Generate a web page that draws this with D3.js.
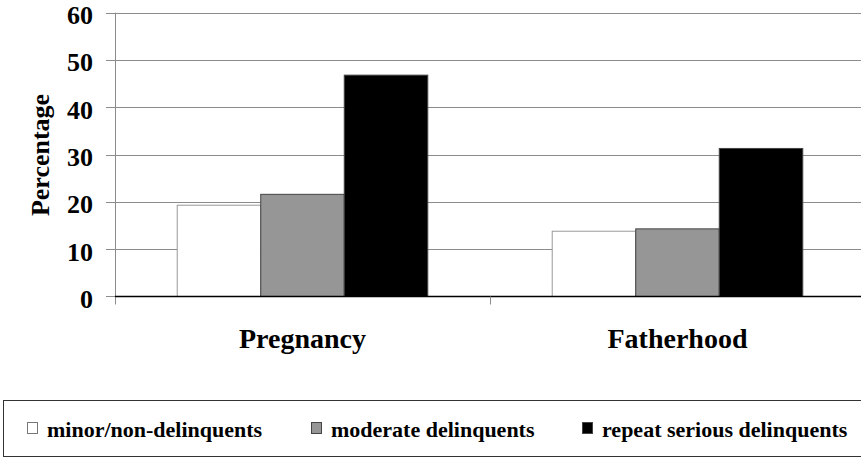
<!DOCTYPE html>
<html>
<head>
<meta charset="utf-8">
<script src="https://cdn.jsdelivr.net/npm/d3@7"></script>
<style>
  body { margin: 0; background: #fff; }
  svg { display: block; }
  text { font-family: "Liberation Serif", "Times New Roman", serif; font-weight: bold; fill: #000; }
</style>
</head>
<body>
<div id="graph"></div>
<script>
var categories = ["Pregnancy", "Fatherhood"];
var series = ["minor/non-delinquents", "moderate delinquents", "repeat serious delinquents"];
var minorValues = [19.3, 13.8];
var moderateValues = [21.6, 14.3];
var seriousValues = [46.8, 31.3];
var yTicks = [0, 10, 20, 30, 40, 50, 60];

var fills = ["#ffffff", "#969696", "#000000"];
var strokes = ["#999999", "#444444", "#444444"];

var W = 861, H = 458;
var plot = { left: 115, right: 865, top: 12.7, bottom: 296.5 };

var svg = d3.select("#graph").append("svg")
    .attr("width", W)
    .attr("height", H);

var x = d3.scaleBand().domain(categories).range([plot.left, plot.right]).padding(0);
var xSub = d3.scaleBand().domain(series).range([0, x.bandwidth()]).paddingInner(0).paddingOuter(0.745);
var y = d3.scaleLinear().domain([0, 60]).range([plot.bottom, plot.top]);

// gridlines
svg.append("g").selectAll("line")
    .data(yTicks.filter(function(d) { return d > 0; }))
    .enter().append("line")
    .attr("x1", plot.left - 9).attr("x2", plot.right)
    .attr("y1", function(d) { return Math.round(y(d)) + 0.5; })
    .attr("y2", function(d) { return Math.round(y(d)) + 0.5; })
    .attr("stroke", "#8c8c8c")
    .attr("stroke-width", 1);

// tick at zero
svg.append("line")
    .attr("x1", plot.left - 9).attr("x2", plot.left)
    .attr("y1", y(0)).attr("y2", y(0))
    .attr("stroke", "#8c8c8c");

// y axis labels
var yAxis = d3.axisLeft(y).tickValues(yTicks).tickSize(0).tickPadding(22);
var gy = svg.append("g")
    .attr("transform", "translate(" + plot.left + ",0)")
    .call(yAxis);
gy.select(".domain").remove();
gy.selectAll("text")
    .style("font-size", "26px")
    .style("font-family", "'Liberation Serif', 'Times New Roman', serif")
    .style("font-weight", "bold")
    .attr("dy", "0.42em");

// vertical axis line
svg.append("line")
    .attr("x1", plot.left + 0.5).attr("x2", plot.left + 0.5)
    .attr("y1", plot.top).attr("y2", plot.bottom + 8)
    .attr("stroke", "#8c8c8c");

var data = categories.map(function(c, i) {
    return { cat: c, vals: [minorValues[i], moderateValues[i], seriousValues[i]] };
});

var groups = svg.selectAll(".grp")
    .data(data)
    .enter().append("g")
    .attr("class", "grp")
    .attr("transform", function(d) { return "translate(" + x(d.cat) + ",0)"; });

groups.selectAll("rect")
    .data(function(d) { return d.vals.map(function(v, j) { return { s: series[j], v: v, j: j }; }); })
    .enter().append("rect")
    .attr("x", function(d) { return xSub(d.s); })
    .attr("y", function(d) { return y(d.v); })
    .attr("width", xSub.bandwidth())
    .attr("height", function(d) { return y(0) - y(d.v); })
    .attr("fill", function(d) { return fills[d.j]; })
    .attr("stroke", function(d) { return strokes[d.j]; })
    .attr("stroke-width", 1);

// baseline
svg.append("line")
    .attr("x1", plot.left).attr("x2", plot.right)
    .attr("y1", y(0)).attr("y2", y(0))
    .attr("stroke", "#000")
    .attr("stroke-width", 1.5);

// category separators
svg.append("g").selectAll("line")
    .data(categories.slice(1))
    .enter().append("line")
    .attr("x1", function(d) { return x(d) + 0.5; })
    .attr("x2", function(d) { return x(d) + 0.5; })
    .attr("y1", plot.bottom).attr("y2", plot.bottom + 8)
    .attr("stroke", "#8c8c8c");

// category labels
svg.append("g").selectAll("text")
    .data(categories)
    .enter().append("text")
    .attr("x", function(d) { return x(d) + x.bandwidth() / 2; })
    .attr("y", 348)
    .attr("text-anchor", "middle")
    .style("font-size", "28px")
    .text(function(d) { return d; });

// y title
svg.append("text")
    .attr("transform", "translate(49,155) rotate(-90)")
    .attr("text-anchor", "middle")
    .style("font-size", "26px")
    .text("Percentage");

// legend
svg.append("rect")
    .attr("x", 3.5).attr("y", 400.5)
    .attr("width", 870).attr("height", 56)
    .attr("fill", "none")
    .attr("stroke", "#333")
    .attr("stroke-width", 1);

var legendX = [27, 311, 582];
var leg = svg.selectAll(".leg")
    .data(series)
    .enter().append("g")
    .attr("class", "leg")
    .attr("transform", function(d, i) { return "translate(" + legendX[i] + ",0)"; });

leg.append("rect")
    .attr("x", 0.5).attr("y", 422.5)
    .attr("width", 10).attr("height", 11)
    .attr("fill", function(d, i) { return fills[i]; })
    .attr("stroke", function(d, i) { return i === 0 ? "#777" : "#444"; });

leg.append("text")
    .attr("x", 20).attr("y", 437)
    .style("font-size", "22px")
    .text(function(d) { return d; });
</script>
</body>
</html>
